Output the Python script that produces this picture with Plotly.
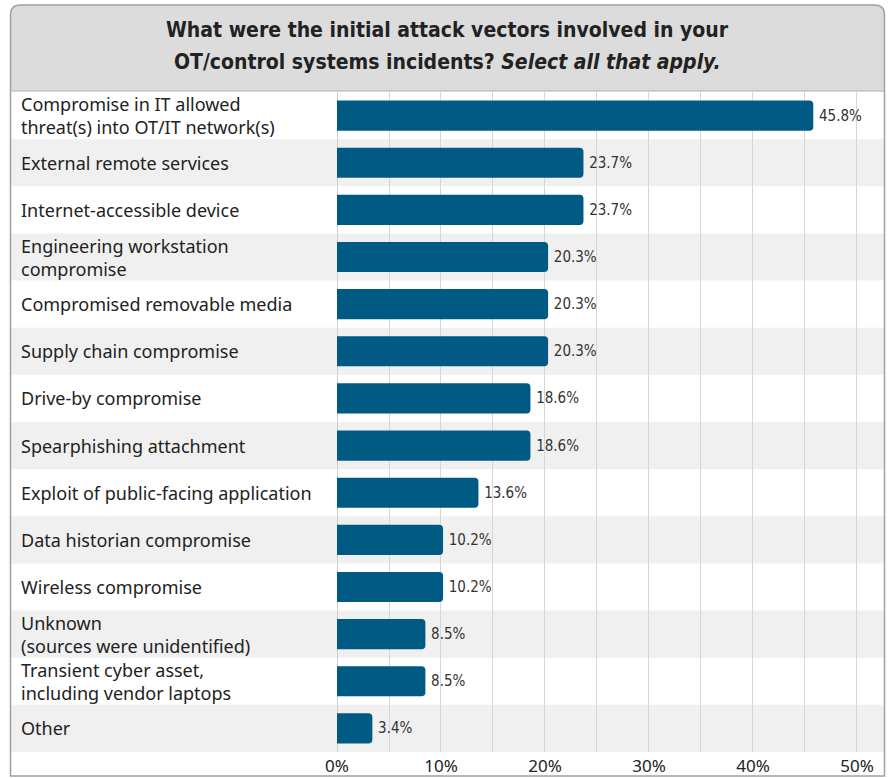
import plotly.graph_objects as go

categories = [
    "Compromise in IT allowed<br>threat(s) into OT/IT network(s)",
    "External remote services",
    "Internet-accessible device",
    "Engineering workstation<br>compromise",
    "Compromised removable media",
    "Supply chain compromise",
    "Drive-by compromise",
    "Spearphishing attachment",
    "Exploit of public-facing application",
    "Data historian compromise",
    "Wireless compromise",
    "Unknown<br>(sources were unidentified)",
    "Transient cyber asset,<br>including vendor laptops",
    "Other",
]
values = [45.8, 23.7, 23.7, 20.3, 20.3, 20.3, 18.6, 18.6, 13.6, 10.2, 10.2, 8.5, 8.5, 3.4]
tick_vals = [0, 10, 20, 30, 40, 50]
tick_text = ["0%", "10%", "20%", "30%", "40%", "50%"]
title_line1 = "<b>What were the initial attack vectors involved in your</b>"
title_line2 = "<b>OT/control systems incidents? <i>Select all that apply.</i></b>"

W, H = 894, 778
L, R, T, B = 337, 884, 92, 752


def px(x):
    return (x - L) / (R - L)


def py(y):
    return (B - y) / (B - T)


BAR_COLOR = "#015a84"
LABEL_FONT = "Noto Sans, Open Sans, sans-serif"
NARROW_FONT = "DejaVu Sans Condensed, sans-serif"

fig = go.Figure(
    go.Bar(
        x=values,
        y=categories,
        orientation="h",
        width=0.64,
        marker=dict(color=BAR_COLOR, cornerradius=4, line=dict(width=0)),
        text=["\u2009" + f"{v:.1f}%" for v in values],
        textposition="outside",
        constraintext="none",
        textfont=dict(family=NARROW_FONT, size=15, color="#333333"),
        cliponaxis=False,
        hoverinfo="skip",
    )
)

shapes = []
n = len(categories)
row_h = (B - T) / n
for i in range(n):
    if i % 2 == 1:
        y0 = T + i * row_h
        shapes.append(dict(type="rect", xref="paper", yref="paper",
                           x0=px(11), x1=px(884), y0=py(y0 + row_h), y1=py(y0),
                           fillcolor="#f0f0f0", line=dict(width=0), layer="below"))

# title box
x0f, x1f, y0f, ytb, ybf, r = 10.5, 884.5, 5, 91, 776, 10
title_path = (f"M {px(x0f)} {py(ytb)} L {px(x0f)} {py(y0f + r)} "
              f"Q {px(x0f)} {py(y0f)} {px(x0f + r)} {py(y0f)} "
              f"L {px(x1f - r)} {py(y0f)} Q {px(x1f)} {py(y0f)} {px(x1f)} {py(y0f + r)} "
              f"L {px(x1f)} {py(ytb)} Z")
shapes.append(dict(type="path", xref="paper", yref="paper", path=title_path,
                   fillcolor="#dcdcdd", line=dict(width=0), layer="below"))
frame_path = (f"M {px(x0f)} {py(ybf)} L {px(x0f)} {py(y0f + r)} "
              f"Q {px(x0f)} {py(y0f)} {px(x0f + r)} {py(y0f)} "
              f"L {px(x1f - r)} {py(y0f)} Q {px(x1f)} {py(y0f)} {px(x1f)} {py(y0f + r)} "
              f"L {px(x1f)} {py(ybf)} Z")
shapes.append(dict(type="path", xref="paper", yref="paper", path=frame_path,
                   fillcolor="rgba(0,0,0,0)", line=dict(color="#a0a0a0", width=1.5), layer="above"))
shapes.append(dict(type="line", xref="paper", yref="paper", x0=px(x0f), x1=px(x1f),
                   y0=py(ytb), y1=py(ytb), line=dict(color="#b0b0b0", width=1), layer="above"))

annotations = [
    dict(text=title_line1, xref="paper", yref="paper", x=px(447), y=py(30),
         xanchor="center", yanchor="middle", showarrow=False,
         font=dict(family=NARROW_FONT, size=21, color="#222222")),
    dict(text=title_line2, xref="paper", yref="paper", x=px(447), y=py(62),
         xanchor="center", yanchor="middle", showarrow=False,
         font=dict(family=NARROW_FONT, size=21, color="#222222")),
]
for c in categories:
    annotations.append(dict(text=c, xref="paper", yref="y", x=px(19), y=c,
                            xanchor="left", yanchor="middle", align="left", showarrow=False,
                            font=dict(family=LABEL_FONT, size=18, color="#222222")))

fig.update_layout(
    width=W, height=H,
    margin=dict(l=L, r=W - R, t=T, b=H - B),
    paper_bgcolor="white",
    plot_bgcolor="rgba(0,0,0,0)",
    showlegend=False,
    shapes=shapes,
    annotations=annotations,
    bargap=0.36,
)
fig.update_xaxes(
    range=[0, 52.6], tickvals=tick_vals, ticktext=tick_text,
    showgrid=True, gridcolor="#d6d6d6", gridwidth=1,
    minor=dict(dtick=5, tick0=0, showgrid=True, gridcolor="#d6d6d6", gridwidth=1),
    zeroline=True, zerolinecolor="#d0d0d0", zerolinewidth=1,
    showline=False, ticks="", ticklabelstandoff=2, automargin=False,
    tickfont=dict(family=LABEL_FONT, size=17, color="#222222"),
    fixedrange=True,
)
fig.update_yaxes(
    categoryorder="array", categoryarray=categories,
    range=[n - 0.5, -0.5], showticklabels=False, showgrid=False,
    zeroline=False, showline=False, ticks="", fixedrange=True, automargin=False,
)

fig.write_html("out.html", config=dict(displayModeBar=False))
